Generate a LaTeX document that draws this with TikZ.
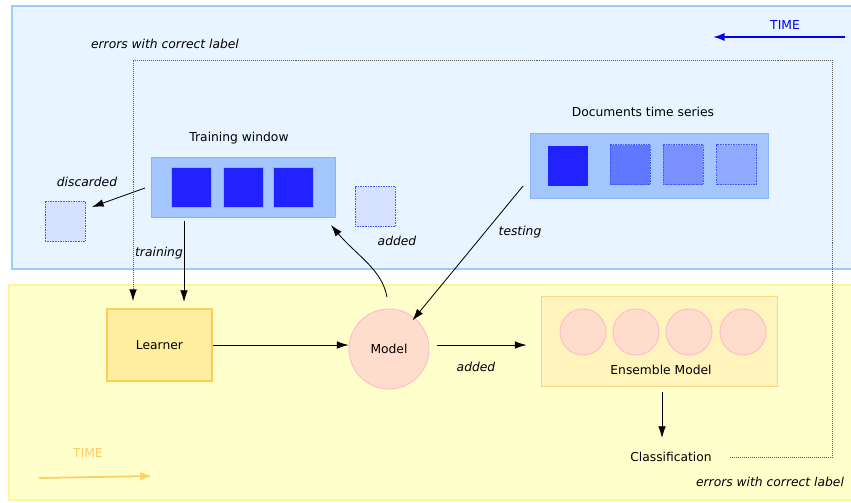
\documentclass[tikz,border=0pt]{standalone}
\usepackage{fontspec}
\setmainfont{DejaVu Sans}
\usetikzlibrary{positioning,calc,arrows.meta}

\definecolor{bluebg}{HTML}{E8F4FF}
\definecolor{blueline}{HTML}{99CCFF}
\definecolor{yellowbg}{HTML}{FFFFCC}
\definecolor{yellowline}{HTML}{FFF599}
\definecolor{winfill}{HTML}{A3C6FF}
\definecolor{winline}{HTML}{88B2FF}
\definecolor{docblue}{HTML}{2222FF}
\definecolor{dotblue}{HTML}{4455FF}
\definecolor{ghostfill}{HTML}{D6E0FF}
\definecolor{learnfill}{HTML}{FFEEA0}
\definecolor{learnline}{HTML}{FFCC55}
\definecolor{modelfill}{HTML}{FFDDCC}
\definecolor{modelline}{HTML}{FFBBCC}
\definecolor{ensfill}{HTML}{FFF4BB}
\definecolor{ensline}{HTML}{FFD580}
\definecolor{timeorange}{HTML}{FFCC66}
\definecolor{timeblue}{HTML}{0000EE}

\begin{document}
\begin{tikzpicture}[x=0.03cm,y=-0.03cm,font=\fontsize{10.5}{12}\selectfont,
    lbl/.style={font=\fontsize{10.5}{12}\selectfont\itshape},
    arr/.style={-{Latex[length=10pt,width=6.5pt]},line width=0.7pt},
    sq/.style={rectangle,minimum width=1.2cm,minimum height=1.2cm,inner sep=0pt},
    ghost/.style={sq,draw=dotblue,densely dotted,fill=ghostfill},
    member/.style={circle,draw=modelline,fill=modelfill,line width=0.8pt,minimum size=1.38cm,inner sep=0pt}]

    \clip (0,0) rectangle (851,502);

    % Two bands
    \draw[draw=blueline,fill=bluebg,line width=2pt] (12,6) rectangle (870,269);
    \draw[draw=yellowline,fill=yellowbg,line width=1.5pt] (9,285) rectangle (870,500);

    % Time arrows
    \node[text=timeblue] (timeT) at (785,25) {TIME};
    \coordinate (timeTs) at (845,37);
    \coordinate (timeTe) at (713,37);
    \draw[-{Latex[length=10pt,width=7pt]},timeblue,line width=1.5pt] (timeTs) -- (timeTe);
    \node[text=timeorange] (timeB) at (88,453) {TIME};
    \coordinate (timeBs) at (39,478);
    \coordinate (timeBe) at (152,476);
    \draw[-{Latex[length=10pt,width=7pt]},timeorange,line width=1.5pt] (timeBs) -- (timeBe);

    % Training window
    \node (wintitle) at (239,138) {Training window};
    \node[rectangle,draw=winline,fill=winfill,minimum width=5.52cm,minimum height=1.8cm] (win) at (243,187) {};
    \foreach \x/\n in {191/a,243/b,293.5/c} {
        \node[sq,fill=docblue,draw=winline] (win\n) at (\x,187.5) {};
    }
    \node[ghost] (disc) at (65,221) {};
    \node[lbl] (disclbl) at (87,182) {discarded};
    \node[ghost] (newdoc) at (375,206.5) {};
    \node[lbl] (newlbl) at (397,241) {added};

    % Documents time series
    \node (docstitle) at (643,112) {Documents time series};
    \node[rectangle,draw=winline,fill=winfill,minimum width=7.14cm,minimum height=1.95cm] (docs) at (649,165.5) {};
    \node[sq,fill=docblue] (doc1) at (568,165.5) {};
    \foreach \x/\c/\n in {630/6078FF/2,683/7A90FF/3,736.5/90AAFF/4} {
        \definecolor{tmp}{HTML}{\c}
        \node[sq,fill=tmp,draw=dotblue,densely dotted] (doc\n) at (\x,164.5) {};
    }

    % Lower band nodes
    \node[rectangle,draw=learnline,fill=learnfill,line width=1.5pt,minimum width=3.15cm,minimum height=2.16cm] (learner) at (159.5,345) {Learner};
    \node[circle,draw=modelline,fill=modelfill,line width=0.8pt,minimum size=2.4cm] (model) at (389,349) {Model};
    \node[rectangle,draw=ensline,fill=ensfill,line width=0.8pt,minimum width=7.08cm,minimum height=2.7cm] (ens) at (659,341) {};
    \foreach \x/\n in {583/1,636/2,689/3,743/4} {
        \node[member] (mem\n) at (\x,332) {};
    }
    \node (enslbl) at (661,370) {Ensemble Model};
    \node (class) at (671,457) {Classification};

    % Connectors
    \coordinate (discS) at (145,188);
    \coordinate (discE) at (92,207);
    \draw[arr] (discS) -- (discE);
    \coordinate (trainS) at (184,221);
    \coordinate (trainE) at (184,302);
    \draw[arr] (trainS) -- (trainE);
    \node[lbl] (trainlbl) at (159,253) {training};
    \coordinate (addE) at (331,225);
    \draw[arr,shorten <=10pt] (model.north) to[out=100,in=-50] (addE);
    \coordinate (testS) at (523,186);
    \draw[arr,shorten >=-3pt] (testS) -- (model);
    \node[lbl] (testlbl) at (520,232) {testing};
    \draw[arr] (learner.east) -- (learner.east -| model.west);
    \draw[arr,shorten <=6pt,shorten >=12pt] (model.east |- learner.east) -- (learner.east -| ens.west);
    \node[lbl] (addlbl) at (476,367) {added};
    \coordinate (clsS) at (662,392);
    \coordinate (clsE) at (662,438);
    \draw[arr] (clsS) -- (clsE);

    % Errors with correct label
    \coordinate (errBL) at (730,457);
    \coordinate (errBR) at (832,457);
    \coordinate (errTR) at (832,60);
    \coordinate (errTL) at (133,60);
    \draw[densely dotted,black!65,line width=0.7pt,-{Latex[length=10pt,width=6.5pt,black]}] (errBL) -- (errBR) -- (errTR) -- (errTL) -- ([yshift=6pt]errTL |- learner.north);
    \node[lbl] (errtop) at (165,44) {errors with correct label};
    \node[lbl] (errbot) at (770,482) {errors with correct label};
\end{tikzpicture}
\end{document}
